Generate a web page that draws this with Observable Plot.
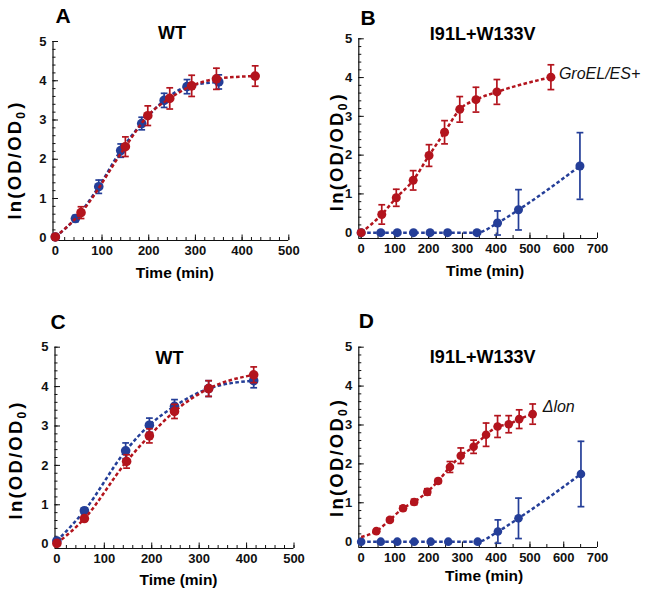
<!DOCTYPE html>
<html><head><meta charset="utf-8">
<script src="https://cdn.jsdelivr.net/npm/d3@7"></script>
<script src="https://cdn.jsdelivr.net/npm/@observablehq/plot@0.6"></script>
<style>
body{margin:0;background:#fff;}
#fig{position:relative;width:649px;height:594px;font-family:"Liberation Sans",Arial,sans-serif;}
#fig svg{position:absolute;overflow:visible;}
</style></head><body><div id="fig"></div>
<script>
// ---------- text ----------
const panelLetters = ["A", "B", "C", "D"];
const panelTitles = ["WT", "I91L+W133V", "WT", "I91L+W133V"];
const yLabelText = "ln(OD/OD0)";
const xLabelText = "Time (min)";
const annotB = "GroEL/ES+";
const annotD = "\u0394lon";

// ---------- ticks ----------
const yMajor = [0, 1, 2, 3, 4, 5];
const yMinor = d3.range(0, 5.001, 0.2);
const xMajor500 = [0, 100, 200, 300, 400, 500];
const xMinor500 = d3.range(0, 501, 20);
const xMajor700 = [0, 100, 200, 300, 400, 500, 600, 700];
const xMinor700 = d3.range(0, 701, 50);

// ---------- Panel A (WT) ----------
const timeA_blue = [0, 43, 93, 140, 185, 233, 282, 350];
const valA_blue  = [0.02, 0.49, 1.30, 2.22, 2.91, 3.50, 3.85, 3.97];
const errA_blue  = [0, 0.08, 0.17, 0.17, 0.16, 0.18, 0.18, 0.18];
const timeA_red  = [0, 55, 150, 198, 245, 292, 345, 428];
const valA_red   = [0.02, 0.64, 2.32, 3.11, 3.55, 3.87, 4.05, 4.12];
const errA_red   = [0, 0.15, 0.25, 0.25, 0.27, 0.27, 0.27, 0.26];

// ---------- Panel B (I91L+W133V, GroEL/ES+) ----------
const timeB_blue = [0, 58, 107, 155, 204, 256, 343, 404, 466, 648];
const valB_blue  = [0, 0, 0, 0, 0, 0, 0, 0.25, 0.59, 1.72];
const errB_blue  = [0, 0, 0, 0, 0, 0, 0, 0.31, 0.52, 0.86];
const timeB_red  = [0, 61, 104, 154, 201, 247, 292, 340, 402, 562];
const valB_red   = [0, 0.47, 0.90, 1.35, 1.99, 2.59, 3.18, 3.43, 3.63, 4.01];
const errB_red   = [0, 0.25, 0.22, 0.25, 0.28, 0.30, 0.33, 0.32, 0.32, 0.32];

// ---------- Panel C (WT) ----------
const timeC_blue = [0, 58, 145, 195, 248, 320, 415];
const valC_blue  = [0.08, 0.85, 2.37, 3.02, 3.50, 3.95, 4.15];
const errC_blue  = [0, 0.07, 0.20, 0.18, 0.17, 0.20, 0.18];
const timeC_red  = [0, 58, 147, 195, 248, 320, 415];
const valC_red   = [0.02, 0.65, 2.10, 2.75, 3.37, 3.95, 4.30];
const errC_red   = [0, 0.06, 0.17, 0.18, 0.18, 0.20, 0.20];

// ---------- Panel D (I91L+W133V, Δlon) ----------
const timeD_blue = [0, 58, 107, 157, 206, 258, 345, 405, 466, 651];
const valD_blue  = [0, 0, 0, 0, 0, 0, 0, 0.26, 0.60, 1.74];
const errD_blue  = [0, 0, 0, 0, 0, 0, 0, 0.30, 0.52, 0.84];
const timeD_red  = [45, 85, 124, 157, 196, 228, 263, 295, 333, 370, 404, 437, 468, 508];
const valD_red   = [0.27, 0.56, 0.86, 1.02, 1.28, 1.56, 1.92, 2.21, 2.44, 2.75, 2.96, 3.02, 3.15, 3.28];
const errD_red   = [0.03, 0.05, 0.06, 0.07, 0.08, 0.06, 0.14, 0.20, 0.17, 0.30, 0.28, 0.22, 0.24, 0.26];
const fitStartD_red = {t: 0, v: 0.12}; // start of the dashed fit curve

// ---------- colors ----------
const RED = "#b3141d";
const BLUE = "#243e98";
const FONT = '"Liberation Sans", Arial, sans-serif';

const toRows = (t, v, e) => t.map((ti, i) => ({t: ti, v: v[i], e: e[i]}));

const capSymbol = {
  draw(context, size) {
    const w = Math.sqrt(size / Math.PI);
    context.moveTo(-w, 0);
    context.lineTo(w, 0);
  }
};

function seriesMarks(rows, color, r, lineRows) {
  const eb = rows.filter(d => d.e > 0.02);
  return [
    Plot.line(lineRows || rows, {x: "t", y: "v", stroke: color, strokeWidth: 2.5, strokeDasharray: "3.6,2.4", strokeLinecap: "butt", curve: "monotone-x"}),
    Plot.ruleX(eb, {x: "t", y1: d => d.v - d.e, y2: d => d.v + d.e, stroke: color, strokeWidth: 1.7}),
    Plot.dot(eb, {x: "t", y: d => d.v + d.e, symbol: capSymbol, r: 3.4, stroke: color, fill: "none", strokeWidth: 1.7}),
    Plot.dot(eb, {x: "t", y: d => d.v - d.e, symbol: capSymbol, r: 3.4, stroke: color, fill: "none", strokeWidth: 1.7}),
    Plot.dot(rows, {x: "t", y: "v", r, fill: color, stroke: "none"})
  ];
}

function makePanel(cfg) {
  const {left, top, width, height, margin, xDomain, yDomain, xMajor, xMinor, blue, red, redLine, blueLine, r,
         idx, letterPos, titlePos, ylabPos, xlabPos, extra} = cfg;
  const tickText = {fontSize: 13, fontWeight: "bold", fontFamily: FONT};
  const txt = {lineAnchor: "middle", fontWeight: "bold", fill: "#000", fontFamily: FONT};
  const marks = [
    Plot.ruleX([xDomain[0]], {stroke: "#111", strokeWidth: 1.2}),
    Plot.ruleY([yDomain[0]], {stroke: "#111", strokeWidth: 1.2}),
    Plot.axisY(yMinor, {anchor: "left", tickSize: -3, tickFormat: () => "", label: null, stroke: "#111"}),
    Plot.axisY(yMajor, {anchor: "left", tickSize: -5.5, tickPadding: 12, tickFormat: d3.format("d"), label: null, stroke: "#111", fill: "#111", ...tickText}),
    Plot.axisX(xMinor, {anchor: "bottom", tickSize: -3, tickFormat: () => "", label: null, stroke: "#111"}),
    Plot.axisX(xMajor, {anchor: "bottom", tickSize: -5.5, tickPadding: 10.5, tickFormat: d3.format("d"), label: null, stroke: "#111", fill: "#111", ...tickText}),
    ...seriesMarks(blue, BLUE, r, blueLine),
    ...seriesMarks(red, RED, r, redLine),
    Plot.text([panelLetters[idx]], {frameAnchor: "top-left", textAnchor: "start", dx: letterPos[0], dy: letterPos[1], fontSize: 21, ...txt}),
    Plot.text([panelTitles[idx]], {frameAnchor: "top", textAnchor: "middle", dx: titlePos[0], dy: titlePos[1], fontSize: 18, ...txt}),
    Plot.text([xLabelText], {frameAnchor: "bottom", textAnchor: "middle", dx: xlabPos[0], dy: xlabPos[1], fontSize: 15.5, ...txt}),
    Plot.text([yLabelText], {frameAnchor: "left", textAnchor: "middle", rotate: -90, dx: ylabPos[0], dy: ylabPos[1], fontSize: 18.5, ...txt}),
    ...(extra || [])
  ];
  const svg = Plot.plot({
    width, height,
    marginLeft: margin[0], marginRight: margin[1], marginTop: margin[2], marginBottom: margin[3],
    x: {domain: xDomain, axis: null},
    y: {domain: yDomain, axis: null},
    style: {fontFamily: FONT, fontSize: "13px", fontWeight: "bold", background: "none", overflow: "visible"},
    marks
  });
  svg.style.left = left + "px";
  svg.style.top = top + "px";
  // subscript for the y label
  d3.select(svg).selectAll("text").each(function() {
    if (this.textContent === yLabelText) {
      const t = d3.select(this);
      t.attr("letter-spacing", "2.2px");
      t.text("ln(OD/OD");
      t.append("tspan").attr("font-size", "12px").attr("dy", "4.5").text("0");
      t.append("tspan").attr("dy", "-4.5").attr("dx", "1").text(")");
    }
  });
  document.getElementById("fig").appendChild(svg);
}

const rowsA_b = toRows(timeA_blue, valA_blue, errA_blue), rowsA_r = toRows(timeA_red, valA_red, errA_red);
const rowsB_b = toRows(timeB_blue, valB_blue, errB_blue), rowsB_r = toRows(timeB_red, valB_red, errB_red);
const rowsC_b = toRows(timeC_blue, valC_blue, errC_blue), rowsC_r = toRows(timeC_red, valC_red, errC_red);
const rowsD_b = toRows(timeD_blue, valD_blue, errD_blue), rowsD_r = toRows(timeD_red, valD_red, errD_red);

makePanel({idx: 0, left: 0, top: 0, width: 325, height: 300, margin: [52.5, 36.7, 41, 60],
  xDomain: [-5, 500], yDomain: [-0.07, 5], xMajor: xMajor500, xMinor: xMinor500,
  blue: rowsA_b, red: rowsA_r, r: 4.8,
  letterPos: [2.5, -25], titlePos: [1, -8], ylabPos: [-38, 19], xlabPos: [4, 33]});

const lastB = rowsB_r[rowsB_r.length - 1];
makePanel({idx: 1, left: 325, top: 0, width: 324, height: 300, margin: [33.3, 52, 38.3, 62],
  xDomain: [-7, 700], yDomain: [-0.15, 5], xMajor: xMajor700, xMinor: xMinor700,
  blue: rowsB_b, red: rowsB_r, r: 4.5,
  letterPos: [1.7, -21], titlePos: [4.5, -5], ylabPos: [-22, 13], xlabPos: [7, 33],
  extra: [Plot.text([lastB], {x: "t", y: "v", text: () => annotB, dx: 8, dy: -3, textAnchor: "start", fontStyle: "italic", fontWeight: "normal", fontSize: 16, fill: "#111", fontFamily: FONT})]});

makePanel({idx: 2, left: 0, top: 300, width: 325, height: 294, margin: [54.5, 31.5, 46.7, 46],
  xDomain: [-4, 500], yDomain: [-0.11, 5], xMajor: xMajor500, xMinor: xMinor500,
  blue: rowsC_b, red: rowsC_r, r: 4.8,
  letterPos: [-4.5, -25], titlePos: [-5, 11], ylabPos: [-39, 12], xlabPos: [4, 32]});

const lastD = rowsD_r[rowsD_r.length - 1];
makePanel({idx: 3, left: 325, top: 300, width: 324, height: 294, margin: [33.3, 52, 46.7, 47],
  xDomain: [-7, 700], yDomain: [-0.15, 5], xMajor: xMajor700, xMinor: xMinor700,
  blue: rowsD_b, red: rowsD_r, r: 4.3, redLine: [fitStartD_red, ...rowsD_r],
  letterPos: [0, -26], titlePos: [4.5, 10], ylabPos: [-22, 10], xlabPos: [6, 29],
  extra: [Plot.text([lastD], {x: "t", y: "v", text: () => annotD, dx: 10, dy: -7, textAnchor: "start", fontStyle: "italic", fontWeight: "normal", fontSize: 16, fill: "#111", fontFamily: FONT})]});
</script></body></html>
